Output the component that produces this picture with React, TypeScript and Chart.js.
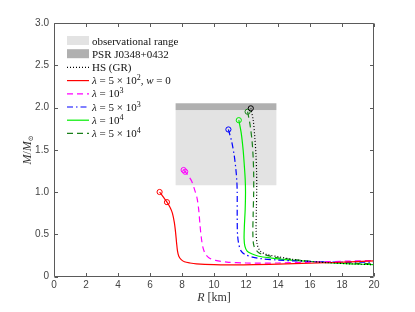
import React, { useEffect, useRef } from 'react';
import { Chart, registerables } from 'chart.js';

Chart.register(...registerables);

// ---- data ----
const xTicks = [0, 2, 4, 6, 8, 10, 12, 14, 16, 18, 20];
const yTicks = [0, 0.5, 1, 1.5, 2, 2.5, 3];

const obsRangeR = [7.6, 13.9];
const obsRangeM = [1.08, 1.97];
const psrM = [1.97, 2.05];

const gr_R = [12.3, 12.45, 12.55, 12.62, 12.66, 12.67, 12.65, 12.63, 12.7, 12.9, 13.3, 14, 15, 15.9, 17, 18.5, 20];
const gr_M = [1.99, 1.85, 1.65, 1.45, 1.25, 1.05, 0.8, 0.55, 0.38, 0.3, 0.26, 0.235, 0.2, 0.18, 0.165, 0.15, 0.14];

const l500_R = [6.6, 7.06, 7.25, 7.4, 7.52, 7.6, 7.66, 7.72, 7.8, 7.95, 8.15, 8.5, 8.9, 10, 11, 12.5, 14.5, 16.5, 18.5, 20];
const l500_M = [1.0, 0.88, 0.82, 0.75, 0.64, 0.52, 0.4, 0.3, 0.24, 0.2, 0.175, 0.16, 0.15, 0.14, 0.138, 0.14, 0.15, 0.16, 0.172, 0.185];

const l1e3_R = [8.1, 8.2, 8.4, 8.6, 8.8, 8.95, 9.05, 9.12, 9.2, 9.3, 9.45, 9.7, 10.1, 10.8, 12, 14, 16, 18, 20];
const l1e3_M = [1.26, 1.24, 1.19, 1.13, 1.02, 0.92, 0.78, 0.62, 0.47, 0.35, 0.27, 0.22, 0.19, 0.17, 0.16, 0.16, 0.17, 0.18, 0.19];

const l5e3_R = [10.9, 11.1, 11.25, 11.35, 11.42, 11.45, 11.45, 11.47, 11.55, 11.7, 11.95, 12.4, 13, 14, 15, 16.5, 18, 20];
const l5e3_M = [1.74, 1.6, 1.45, 1.3, 1.15, 1.0, 0.7, 0.5, 0.38, 0.3, 0.26, 0.23, 0.21, 0.195, 0.185, 0.175, 0.17, 0.17];

const l1e4_R = [11.55, 11.7, 11.82, 11.9, 11.95, 11.97, 11.95, 11.9, 11.88, 11.93, 12.07, 12.35, 12.8, 13.5, 14.45, 15.5, 17, 18.5, 20];
const l1e4_M = [1.85, 1.7, 1.5, 1.3, 1.15, 1.0, 0.8, 0.6, 0.45, 0.36, 0.3, 0.27, 0.24, 0.22, 0.2, 0.185, 0.165, 0.15, 0.14];

const l5e4_R = [12.1, 12.25, 12.38, 12.45, 12.48, 12.48, 12.45, 12.43, 12.5, 12.8, 13.3, 14, 15, 16, 17.5, 19, 20];
const l5e4_M = [1.95, 1.8, 1.6, 1.4, 1.2, 1.0, 0.75, 0.5, 0.36, 0.28, 0.25, 0.22, 0.2, 0.18, 0.165, 0.155, 0.15];

type Seg = { t: string; i?: boolean; s?: boolean };
const legendLabels: Seg[][] = [
  [{ t: 'observational range' }],
  [{ t: 'PSR J0348+0432' }],
  [{ t: 'HS (GR)' }],
  [{ t: 'λ', i: true }, { t: ' = 5 × 10' }, { t: '2', s: true }, { t: ', ' }, { t: 'w', i: true }, { t: ' = 0' }],
  [{ t: 'λ', i: true }, { t: ' = 10' }, { t: '3', s: true }],
  [{ t: 'λ', i: true }, { t: ' = 5 × 10' }, { t: '3', s: true }],
  [{ t: 'λ', i: true }, { t: ' = 10' }, { t: '4', s: true }],
  [{ t: 'λ', i: true }, { t: ' = 5 × 10' }, { t: '4', s: true }],
];

const obsColor = '#e3e3e3';
const psrColor = '#b0b0b0';
const axisColor = '#5a5a5a';
const SERIF = '"Liberation Serif", "DejaVu Serif", serif';
const SANS = '"Liberation Sans", Arial, sans-serif';

function pts(R: number[], M: number[]) {
  return R.map((r, k) => ({ x: r, y: M[k] }));
}

function mk(label: string, R: number[], M: number[], color: string, dash: number[], markers: number[]) {
  return {
    label,
    data: pts(R, M),
    showLine: true,
    borderColor: color,
    borderWidth: 1.2,
    borderDash: dash,
    tension: 0.3,
    fill: false,
    pointStyle: 'circle',
    pointRadius: (ctx: any) => (markers.includes(ctx.dataIndex) ? 2.6 : 0),
    pointBorderColor: color,
    pointBackgroundColor: 'rgba(255,255,255,0)',
    pointBorderWidth: 1,
    pointHoverRadius: 0,
  };
}

function drawSegs(ctx: CanvasRenderingContext2D, segs: Seg[], x: number, y: number) {
  let cx = x;
  for (const sg of segs) {
    if (sg.s) {
      ctx.font = `8px ${SERIF}`;
      ctx.fillText(sg.t, cx, y - 4);
    } else {
      ctx.font = `${sg.i ? 'italic ' : ''}11px ${SERIF}`;
      ctx.fillText(sg.t, cx, y);
    }
    cx += ctx.measureText(sg.t).width;
  }
  return cx;
}

const regionsPlugin = {
  id: 'regions',
  beforeDatasetsDraw(chart: any) {
    const { ctx, scales } = chart;
    const x = scales.x, y = scales.y;
    ctx.save();
    const x0 = x.getPixelForValue(obsRangeR[0]);
    const x1 = x.getPixelForValue(obsRangeR[1]);
    ctx.fillStyle = obsColor;
    const oy0 = y.getPixelForValue(obsRangeM[1]);
    const oy1 = y.getPixelForValue(obsRangeM[0]);
    ctx.fillRect(x0, oy0, x1 - x0, oy1 - oy0);
    ctx.fillStyle = psrColor;
    const py0 = y.getPixelForValue(psrM[1]);
    const py1 = y.getPixelForValue(psrM[0]);
    ctx.fillRect(x0, py0, x1 - x0, py1 - py0);
    ctx.restore();
  },
};

const framePlugin = {
  id: 'frame',
  afterDatasetsDraw(chart: any) {
    const { ctx, chartArea: a, scales } = chart;
    const x = scales.x, y = scales.y;
    ctx.save();
    ctx.strokeStyle = axisColor;
    ctx.lineWidth = 1;
    const L = Math.round(a.left) + 0.5, R = Math.round(a.right) - 0.5;
    const T = Math.round(a.top) + 0.5, B = Math.round(a.bottom) - 0.5;
    ctx.beginPath();
    ctx.rect(L, T, R - L, B - T);
    const tl = 3.5;
    for (const v of xTicks) {
      const px = Math.round(x.getPixelForValue(v)) + 0.5;
      ctx.moveTo(px, B); ctx.lineTo(px, B - tl);
      ctx.moveTo(px, T); ctx.lineTo(px, T + tl);
    }
    for (const v of yTicks) {
      const py = Math.round(y.getPixelForValue(v)) + 0.5;
      ctx.moveTo(L, py); ctx.lineTo(L + tl, py);
      ctx.moveTo(R, py); ctx.lineTo(R - tl, py);
    }
    ctx.stroke();
    ctx.restore();
  },
  afterDraw(chart: any) {
    const { ctx, chartArea: a } = chart;
    ctx.save();
    ctx.fillStyle = '#333';
    ctx.textBaseline = 'alphabetic';
    // x title
    const xsegs: Seg[] = [{ t: 'R', i: true }, { t: ' [km]' }];
    let w = 0;
    for (const sg of xsegs) { ctx.font = `${sg.i ? 'italic ' : ''}12px ${SERIF}`; w += ctx.measureText(sg.t).width; }
    let cx = (a.left + a.right) / 2 - w / 2;
    for (const sg of xsegs) {
      ctx.font = `${sg.i ? 'italic ' : ''}12px ${SERIF}`;
      ctx.fillText(sg.t, cx, 301);
      cx += ctx.measureText(sg.t).width;
    }
    // y title
    ctx.save();
    ctx.translate(31, 150);
    ctx.rotate(-Math.PI / 2);
    const ysegs: Seg[] = [{ t: 'M', i: true }, { t: '/' }, { t: 'M', i: true }];
    let yw = 0;
    for (const sg of ysegs) { ctx.font = `${sg.i ? 'italic ' : ''}12px ${SERIF}`; yw += ctx.measureText(sg.t).width; }
    ctx.font = `7px ${SERIF}`;
    yw += ctx.measureText('⊙').width;
    let yx = -yw / 2;
    for (const sg of ysegs) {
      ctx.font = `${sg.i ? 'italic ' : ''}12px ${SERIF}`;
      ctx.fillText(sg.t, yx, 0);
      yx += ctx.measureText(sg.t).width;
    }
    ctx.font = `7px ${SERIF}`;
    ctx.fillText('⊙', yx, 2);
    ctx.restore();

    // legend
    const lx0 = 67, lx1 = 89, tx = 92, y0 = 40.5, dy = 13.2;
    const ds = chart.data.datasets;
    for (let k = 0; k < legendLabels.length; k++) {
      const yy = y0 + k * dy;
      if (k < 2) {
        ctx.fillStyle = k === 0 ? obsColor : psrColor;
        ctx.fillRect(lx0, yy - 4.5, lx1 - lx0, 9);
      } else {
        const d = ds[k - 2];
        ctx.save();
        ctx.strokeStyle = d.borderColor;
        ctx.lineWidth = d.borderWidth;
        ctx.setLineDash(d.borderDash || []);
        ctx.beginPath();
        ctx.moveTo(lx0, yy + 0.5);
        ctx.lineTo(lx1, yy + 0.5);
        ctx.stroke();
        ctx.restore();
      }
      ctx.fillStyle = '#111';
      drawSegs(ctx, legendLabels[k], tx, yy + 4);
    }
    ctx.restore();
  },
};

export default function App() {
  const ref = useRef<HTMLCanvasElement | null>(null);
  useEffect(() => {
    document.body.style.margin = '0';
    const canvas = ref.current!;
    const chart = new Chart(canvas, {
      type: 'scatter',
      data: {
        datasets: [
          mk('HS (GR)', gr_R, gr_M, '#000000', [1, 2], [0]),
          mk('λ = 5 × 10², w = 0', l500_R, l500_M, '#ff0000', [], [0, 1]),
          mk('λ = 10³', l1e3_R, l1e3_M, '#ff00ff', [6, 4], [0, 1]),
          mk('λ = 5 × 10³', l5e3_R, l5e3_M, '#0000ff', [6, 3, 1.5, 3], [0]),
          mk('λ = 10⁴', l1e4_R, l1e4_M, '#00ee00', [], [0]),
          mk('λ = 5 × 10⁴', l5e4_R, l5e4_M, '#1a801a', [6, 4], [0]),
        ] as any,
      },
      options: {
        responsive: false,
        animation: false,
        events: [],
        layout: { padding: { left: 0, right: 41, top: 23, bottom: 0 } },
        plugins: { legend: { display: false }, tooltip: { enabled: false } },
        scales: {
          x: {
            type: 'linear',
            min: 0,
            max: 20,
            afterBuildTicks: (s: any) => { s.ticks = xTicks.map((v) => ({ value: v })); },
            afterFit: (s: any) => { s.height = 35.5; },
            grid: { display: false, drawTicks: false },
            border: { display: false },
            ticks: { padding: 3, color: '#444', font: { family: SANS, size: 10 }, maxRotation: 0 },
          },
          y: {
            type: 'linear',
            min: 0,
            max: 3,
            afterBuildTicks: (s: any) => { s.ticks = yTicks.map((v) => ({ value: v })); },
            afterFit: (s: any) => { s.width = 54; },
            grid: { display: false, drawTicks: false },
            border: { display: false },
            ticks: { padding: 5, color: '#444', font: { family: SANS, size: 10 } },
          },
        },
      },
      plugins: [regionsPlugin, framePlugin],
    });
    return () => chart.destroy();
  }, []);
  return (
    <div style={{ width: 415, height: 312, background: '#fff' }}>
      <canvas ref={ref} width={415} height={312} style={{ width: 415, height: 312, display: 'block' }} />
    </div>
  );
}
